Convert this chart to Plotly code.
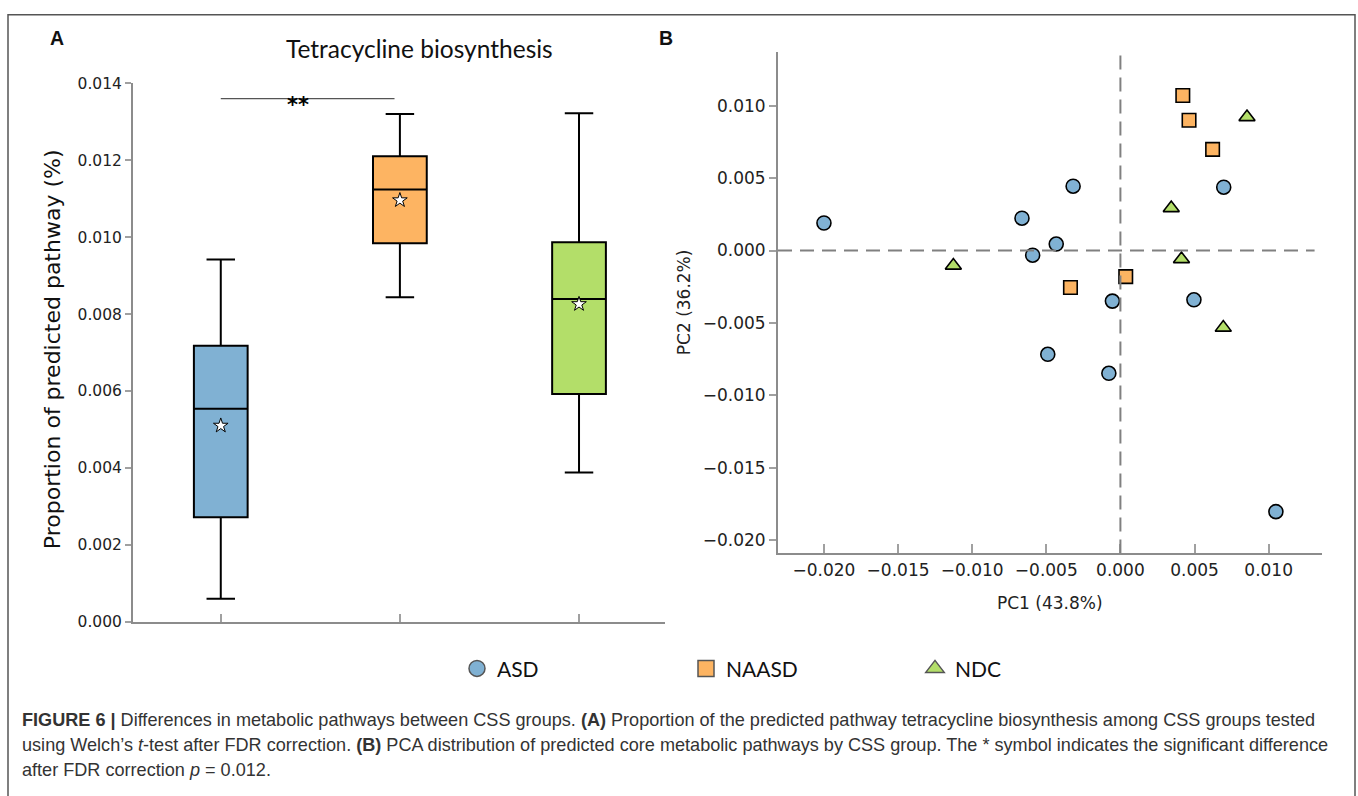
import plotly.graph_objects as go

W, H = 1358, 796

# ---------------- data ----------------
categories = ["ASD", "NAASD", "NDC"]
box_lower = [0.0006, 0.00844, 0.00388]
box_q1 = [0.00272, 0.00984, 0.00592]
box_median = [0.00554, 0.01124, 0.00839]
box_q3 = [0.00718, 0.0121, 0.00987]
box_upper = [0.00942, 0.0132, 0.01322]
box_mean = [0.0051, 0.01096, 0.00826]
colors = ["#80b1d3", "#fdb462", "#b3de69"]

asd_pc1 = [-0.0200, -0.00664, -0.00319, -0.00433, -0.00592, -0.00054, 0.00496, 0.00697, -0.0049, -0.00078, 0.01049]
asd_pc2 = [0.0019, 0.00223, 0.00444, 0.00045, -0.00032, -0.00349, -0.0034, 0.00437, -0.00716, -0.00847, -0.01802]
naasd_pc1 = [0.00421, 0.00463, 0.00622, 0.00036, -0.00337]
naasd_pc2 = [0.0107, 0.00899, 0.00698, -0.0018, -0.00255]
ndc_pc1 = [0.00854, 0.00343, 0.00412, -0.01127, 0.00694]
ndc_pc2 = [0.00921, 0.00293, -0.00059, -0.00104, -0.00532]

y_ticks_a = [0.000, 0.002, 0.004, 0.006, 0.008, 0.010, 0.012, 0.014]
x_ticks_b = [-0.020, -0.015, -0.010, -0.005, 0.000, 0.005, 0.010]
y_ticks_b = [-0.020, -0.015, -0.010, -0.005, 0.000, 0.005, 0.010]


def px(x):
    return x / W


def py(y):
    return 1 - y / H


fig = go.Figure()

# ---------------- panel A: box plots ----------------
for i, cat in enumerate(categories):
    fig.add_trace(go.Box(
        x=[cat], q1=[box_q1[i]], median=[box_median[i]], q3=[box_q3[i]],
        lowerfence=[box_lower[i]], upperfence=[box_upper[i]],
        fillcolor=colors[i], line=dict(color="black", width=2),
        width=0.3, whiskerwidth=0.53, boxpoints=False,
        showlegend=False, hoverinfo="skip",
        xaxis="x", yaxis="y",
    ))

fig.add_trace(go.Scatter(
    x=categories, y=box_mean, mode="markers",
    marker=dict(symbol="star", size=11, color="white", line=dict(color="black", width=1)),
    showlegend=False, hoverinfo="skip", xaxis="x", yaxis="y",
))

# ---------------- panel B: PCA scatter ----------------
groups = [
    ("ASD", asd_pc1, asd_pc2, "circle", colors[0], 14),
    ("NAASD", naasd_pc1, naasd_pc2, "square", colors[1], 13.5),
    ("NDC", ndc_pc1, ndc_pc2, "triangle-up", colors[2], 14),
]
for name, xs, ys, sym, col, sz in groups:
    fig.add_trace(go.Scatter(
        x=xs, y=ys, mode="markers", name=name,
        marker=dict(symbol=sym, size=sz, color=col, line=dict(color="black", width=1.6)),
        showlegend=False, xaxis="x2", yaxis="y2",
    ))

# legend entries
for name, xs, ys, sym, col, sz in groups:
    fig.add_trace(go.Scatter(
        x=[None], y=[None], mode="markers", name=name,
        marker=dict(symbol=sym, size=17, color=col, line=dict(color="#555555", width=1.5)),
        showlegend=True, xaxis="x2", yaxis="y2",
    ))

axis_line = "#8c8c8c"

fig.update_layout(
    width=W, height=H,
    margin=dict(l=0, r=0, t=0, b=0),
    paper_bgcolor="white", plot_bgcolor="white",
    showlegend=True,
    legend=dict(
        orientation="h", x=px(457), y=py(675), xanchor="left", yanchor="middle",
        entrywidth=184, entrywidthmode="pixels",
        font=dict(family="Lato, Open Sans, sans-serif", size=21, color="#111111"),
        bgcolor="rgba(0,0,0,0)", itemclick=False, itemdoubleclick=False,
    ),
    xaxis=dict(
        domain=[px(133), px(665)], anchor="y", type="category",
        categoryorder="array", categoryarray=categories,
        range=[-0.49, 2.48], showline=True, linecolor=axis_line, linewidth=2,
        ticks="inside", ticklen=8, tickcolor="#a0a0a0", tickwidth=1.5,
        showticklabels=False, showgrid=False, zeroline=False, fixedrange=True,
    ),
    yaxis=dict(
        domain=[py(627), py(76)], anchor="x",
        range=[0, 0.014], tickvals=y_ticks_a, tickformat=".3f",
        showline=True, linecolor=axis_line, linewidth=2,
        ticks="outside", ticklen=6, tickcolor="#a0a0a0", tickwidth=1.5,
        tickfont=dict(family="DejaVu Sans", size=15.5, color="#222222"),
        showgrid=False, zeroline=False, fixedrange=True,
    ),
    xaxis2=dict(
        domain=[px(778), px(1322)], anchor="y2",
        range=[-0.0231, 0.0136], tickvals=x_ticks_b, tickformat=".3f",
        showline=True, linecolor=axis_line, linewidth=2,
        ticks="inside", ticklen=9, tickcolor="#a0a0a0", tickwidth=1.5,
        tickfont=dict(family="DejaVu Sans", size=17, color="#222222"),
        showgrid=False, zeroline=False, fixedrange=True,
    ),
    yaxis2=dict(
        domain=[py(557), py(44)], anchor="x2",
        range=[-0.0209, 0.0137], tickvals=y_ticks_b, tickformat=".3f",
        showline=True, linecolor=axis_line, linewidth=2,
        ticks="outside", ticklen=7, tickcolor="#a0a0a0", tickwidth=1.5,
        tickfont=dict(family="DejaVu Sans", size=17, color="#222222"),
        showgrid=False, zeroline=False, fixedrange=True,
    ),
)

dash_line = dict(color="#808080", width=2, dash="14px,8px")
shapes = [
    # PCA reference lines
    dict(type="line", xref="x2", yref="y2", x0=0, x1=0, y0=-0.0209, y1=0.0135, line=dash_line),
    dict(type="line", xref="x2", yref="y2", x0=-0.0231, x1=0.0131, y0=0, y1=0, line=dash_line),
    # significance bar
    dict(type="line", xref="x", yref="y", x0=0, x1=0.97, y0=0.0136, y1=0.0136,
         line=dict(color="#555555", width=1.3)),
    # figure frame
    dict(type="rect", xref="paper", yref="paper", x0=px(8), x1=px(1355), y0=-0.05, y1=py(6),
         line=dict(color="#555555", width=1.5), fillcolor="rgba(0,0,0,0)", layer="below"),
]
fig.update_layout(shapes=shapes)

cap_font = dict(family="Liberation Sans, Arial, sans-serif", size=18.1, color="#333333")


def ann(text, x, y, font, **kw):
    d = dict(text=text, x=x, y=y, xref="paper", yref="paper", showarrow=False,
             xanchor="center", yanchor="middle", font=font)
    d.update(kw)
    return d


annotations = [
    ann("<b>A</b>", px(57), py(30), dict(family="Liberation Sans, Arial", size=19.5, color="#111111")),
    ann("<b>B</b>", px(666), py(30), dict(family="Liberation Sans, Arial", size=19.5, color="#111111")),
    ann("Tetracycline biosynthesis", px(419), py(40), dict(family="Lato, Open Sans", size=24.5, color="#111111")),
    ann("Proportion of predicted pathway (%)", px(52), py(348),
        dict(family="DejaVu Sans", size=22, color="#111111"), textangle=-90),
    dict(text="<b>**</b>", x=0.43, y=0.0136, xref="x", yref="y", showarrow=False,
         xanchor="center", yanchor="middle", yshift=-6,
         font=dict(family="DejaVu Sans", size=21, color="black")),
    ann("PC1 (43.8%)", px(1050), py(608), dict(family="DejaVu Sans", size=17, color="#222222")),
    ann("PC2 (36.2%)", px(684), py(300), dict(family="DejaVu Sans", size=17, color="#222222"), textangle=-90),
    ann("<b>FIGURE 6 |</b> Differences in metabolic pathways between CSS groups. <b>(A)</b> Proportion of the predicted pathway tetracycline biosynthesis among CSS groups tested",
        px(20), py(727), cap_font, xanchor="left"),
    ann("using Welch\u2019s <i>t</i>-test after FDR correction. <b>(B)</b> PCA distribution of predicted core metabolic pathways by CSS group. The * symbol indicates the significant difference",
        px(20), py(753), cap_font, xanchor="left"),
    ann("after FDR correction <i>p</i> = 0.012.", px(20), py(779), cap_font, xanchor="left"),
]
fig.update_layout(annotations=annotations)

fig.write_html("out.html")
